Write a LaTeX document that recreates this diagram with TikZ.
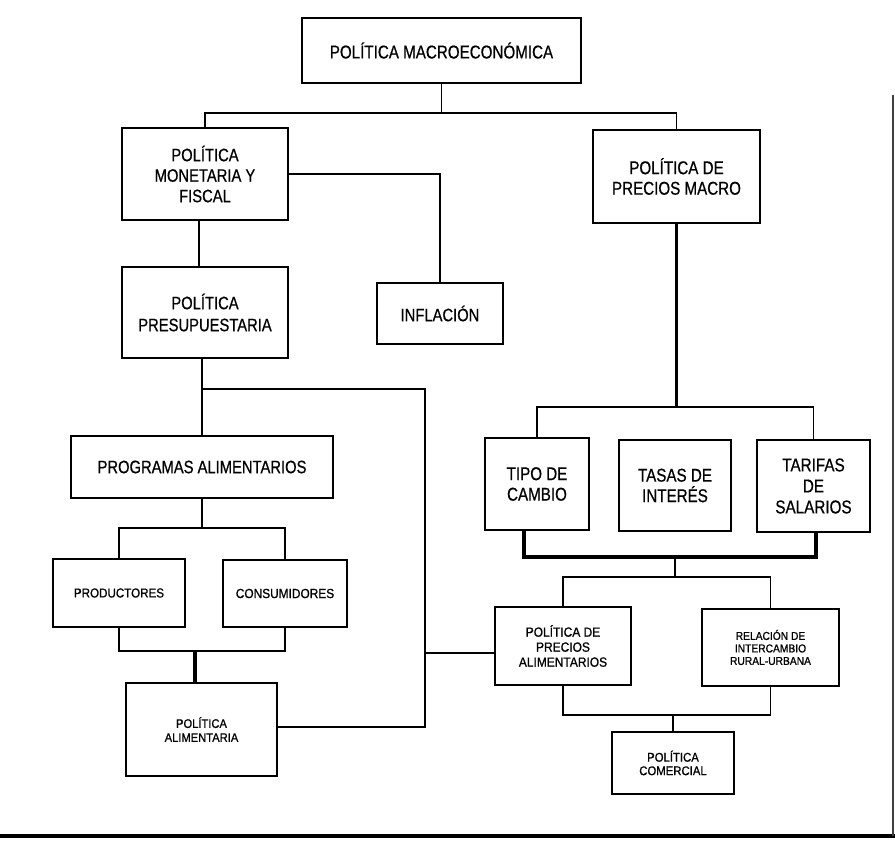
\documentclass[tikz,border=0pt]{standalone}
\usepackage{fontspec}
\setmainfont{Liberation Sans}[FakeStretch=0.82,FakeBold=0.6]
\newfontfamily\smf{Liberation Sans}[FakeStretch=0.9,FakeBold=0.9]
\begin{document}
\begin{tikzpicture}[x=1pt,y=-1pt,
  box/.style={draw, line width=2.2pt, inner sep=0pt, align=center, text=black},
  conn/.style={line width=1.8pt},
  bar/.style={line width=3.2pt},
  bigL/.style={font=\fontsize{18.0}{20.5}\selectfont},
  bigR/.style={font=\fontsize{18.5}{20.5}\selectfont},
  sm/.style 2 args={font=\smf\fontsize{#1}{#2}\selectfont}]
\useasboundingbox (0,0) rectangle (895,842);

% nodes
\node[box,bigR,minimum width=279,minimum height=65] (top) at (441.5,50.5) {POLÍTICA MACROECONÓMICA};
\node[box,bigL,minimum width=166,minimum height=92] (mon) at (205,174) {POLÍTICA\\MONETARIA Y\\FISCAL};
\node[box,bigR,minimum width=167,minimum height=93] (prec) at (676.5,176.5) {POLÍTICA DE\\PRECIOS MACRO};
\node[box,bigL,minimum width=126,minimum height=61] (infl) at (440,313.5) {INFLACIÓN};
\node[box,bigL,font=\fontsize{18.0}{22}\selectfont,minimum width=166,minimum height=91] (pres) at (205,312.5) {POLÍTICA\\PRESUPUESTARIA};
\node[box,bigL,minimum width=262,minimum height=62] (prog) at (202,467) {PROGRAMAS ALIMENTARIOS};
\node[box,sm={12.9}{15},minimum width=132,minimum height=68] (prod) at (119,593) {PRODUCTORES};
\node[box,sm={13.2}{15},minimum width=124,minimum height=67] (cons) at (285,593.5) {CONSUMIDORES};
\node[box,sm={12.4}{14},minimum width=151,minimum height=93] (alim) at (201.5,729.5) {POLÍTICA\\ALIMENTARIA};
\node[box,bigR,minimum width=104,minimum height=92] (tipo) at (537,484) {TIPO DE\\CAMBIO};
\node[box,bigR,minimum width=112,minimum height=91] (tasas) at (675,485.5) {TASAS DE\\INTERÉS};
\node[box,bigR,font=\fontsize{18.6}{21}\selectfont,minimum width=113,minimum height=92] (tarifas) at (813.5,486) {TARIFAS\\DE\\SALARIOS};
\node[box,sm={13.3}{15},minimum width=136,minimum height=78] (pal) at (563,646) {POLÍTICA DE\\PRECIOS\\ALIMENTARIOS};
\node[box,sm={11.4}{12.5},minimum width=137,minimum height=77] (rel) at (770.5,647.5) {RELACIÓN DE\\INTERCAMBIO\\RURAL-URBANA};
\node[box,sm={12.6}{13.5},minimum width=122,minimum height=62] (com) at (673,763) {POLÍTICA\\COMERCIAL};

% junction coordinates
\coordinate (t2) at (676.5,113);
\coordinate (k0) at (202,389);
\coordinate (k1) at (425,389);
\coordinate (k2) at (425,653);
\coordinate (k3) at (425,727);
\coordinate (p1) at (202,528);
\coordinate (p2) at (195,651);
\coordinate (q1) at (676.5,407);
\coordinate (r1) at (524,557);
\coordinate (r3) at (816,557);
\coordinate (r0) at (675,557);
\coordinate (s1) at (675,577);
\coordinate (u1) at (673,715);

% connectors
\draw[conn] (top.south) -- (top.south |- t2);
\draw[conn] (mon.north) |- (t2) -- (prec.north);
\draw[conn] (mon.east) -| (infl.north);
\draw[conn] ([xshift=-6pt]mon.south) -- ([xshift=-6pt]pres.south |- pres.north);
\draw[conn] (pres.south -| prog.north) -- (prog.north);
\draw[conn] (k0) -- (k1) -- (k3) -- (alim.east |- k3);
\draw[conn] (k2) -- (pal.west |- k2);
\draw[conn] (prog.south) -- (p1);
\draw[conn] (prod.north) |- (p1) -| (cons.north);
\draw[conn] (prod.south) |- (p2) -| (cons.south);
\draw[bar] (p2) -- (p2 |- alim.north);
\draw[bar] (prec.south) -- (q1);
\draw[conn] (tipo.north) |- (q1) -| (tarifas.north);
\draw[bar] (tipo.south -| r1) -- (r1) -- (r3) -- (tarifas.south -| r3);
\draw[conn] (r0) -- (s1);
\draw[conn] (pal.north) |- (s1) -| (rel.north);
\draw[conn] (pal.south) |- (u1) -| (rel.south);
\draw[conn] (u1) -- (com.north);

% page frame
\draw[line width=3.5pt] (0,836) -- (895,836);
\draw[line width=1.4pt, black!75] (893,95) -- (893,836);
\end{tikzpicture}
\end{document}
